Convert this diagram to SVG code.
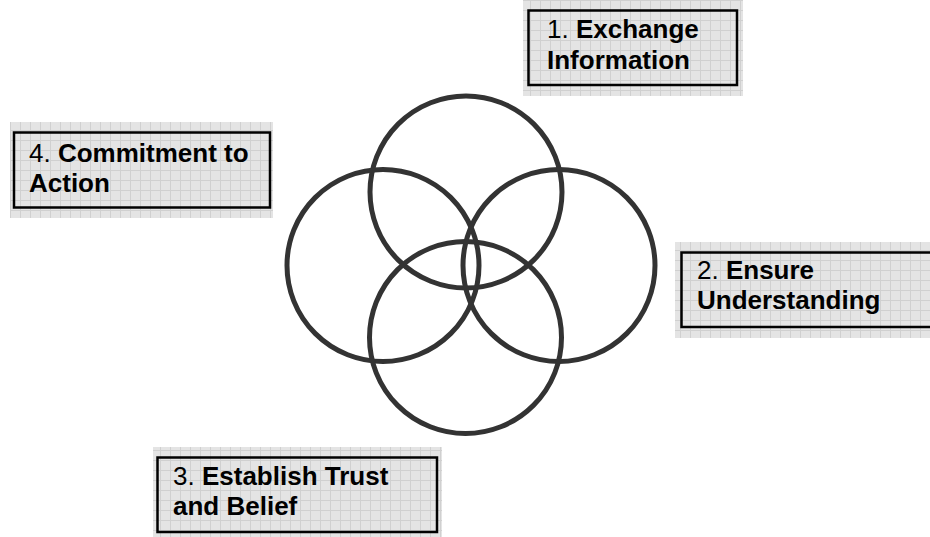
<svg xmlns="http://www.w3.org/2000/svg" width="930" height="537" viewBox="0 0 930 537">
<defs>
<pattern id="grid" patternUnits="userSpaceOnUse" width="10" height="10">
<rect width="10" height="10" fill="#e4e4e4"/>
<path d="M0 0.5H10M0.5 0V10" stroke="#d0d0d0" stroke-width="1" fill="none"/>
</pattern>
<style>
.bg{fill:url(#grid)}
.bd{fill:none;stroke:#000;stroke-width:2.5}
.c{fill:none;stroke:#333;stroke-width:5}
text{font-family:"Liberation Sans",Arial,sans-serif;font-size:26px;fill:#000}
.b{font-weight:bold}
</style>
</defs>
<rect width="930" height="537" fill="#fff"/>
<g id="circles">
<circle class="c" cx="466" cy="192" r="96"/>
<circle class="c" cx="383" cy="265.5" r="96"/>
<circle class="c" cx="559" cy="265.5" r="96"/>
<circle class="c" cx="465.5" cy="337.5" r="96"/>
</g>
<g id="box1">
<rect class="bg" x="523" y="0" width="220" height="96"/>
<rect class="bd" x="528.5" y="10.5" width="208.5" height="74.5"/>
<text x="547" y="38">1. <tspan class="b">Exchange</tspan></text>
<text x="547" y="69" class="b">Information</text>
</g>
<g id="box2">
<rect class="bg" x="675" y="242" width="255" height="96"/>
<rect class="bd" x="681.5" y="252.5" width="252" height="74.5"/>
<text x="697" y="279">2. <tspan class="b">Ensure</tspan></text>
<text x="697" y="309" class="b">Understanding</text>
</g>
<g id="box3">
<rect class="bg" x="153" y="447" width="289" height="90"/>
<rect class="bd" x="157.5" y="457.5" width="279.5" height="74.5"/>
<text x="173" y="485">3. <tspan class="b">Establish Trust</tspan></text>
<text x="173" y="515" class="b">and Belief</text>
</g>
<g id="box4">
<rect class="bg" x="10" y="122" width="263" height="96"/>
<rect class="bd" x="14" y="132.5" width="256" height="75"/>
<text x="29" y="162">4. <tspan class="b">Commitment to</tspan></text>
<text x="29" y="192" class="b">Action</text>
</g>
</svg>
